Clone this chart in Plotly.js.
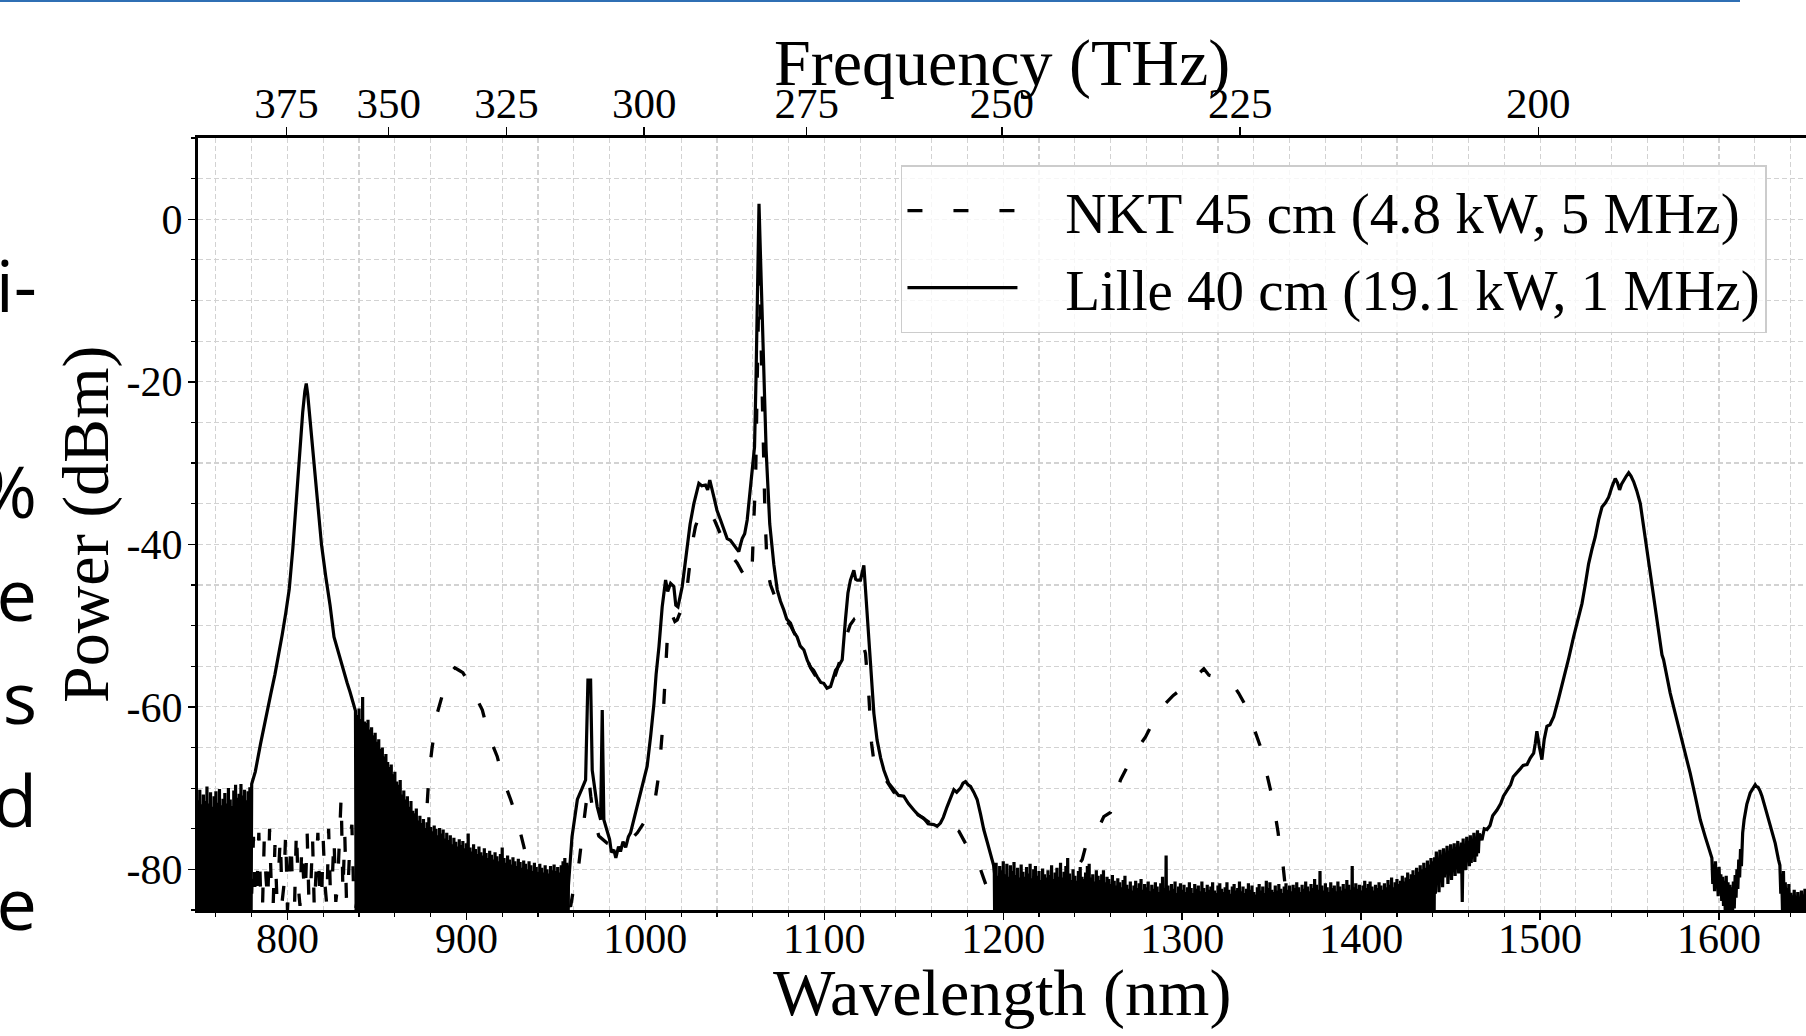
<!DOCTYPE html>
<html>
<head>
<meta charset="utf-8">
<script src="https://cdn.plot.ly/plotly-3.0.1.min.js"></script>
<style>
  html, body { margin:0; padding:0; width:1806px; height:1036px; overflow:hidden; background:#ffffff; }
  #chart { position:absolute; left:0; top:0; width:1900px; height:1036px; }
  #topline { position:absolute; left:0; top:0; width:1740px; height:2px; background:#2f6fb4; }
  .side { position:absolute; right:1769px; font-family:"Open Sans", "Noto Sans", sans-serif; font-size:72px; line-height:72px; color:#000; white-space:nowrap; text-align:right; }
</style>
</head>
<body>
<div id="chart"></div>
<div id="topline"></div>
<div class="side" style="top:248px;">i-</div>
<div class="side" style="top:454px;">%</div>
<div class="side" style="top:557px;">e</div>
<div class="side" style="top:660px;">s</div>
<div class="side" style="top:763px;">d</div>
<div class="side" style="top:866px;">e</div>
<script>
// ---------------- DATA ----------------
const seriesNames = ["NKT 45 cm (4.8 kW, 5 MHz)", "Lille 40 cm (19.1 kW, 1 MHz)"];
const axisTitles = { x: "Wavelength (nm)", x2: "Frequency (THz)", y: "Power (dBm)" };
const freqTicksTHz = [375, 350, 325, 300, 275, 250, 225, 200];
const yTickVals = [0, -20, -40, -60, -80];
const yTickText = ["0", "-20", "-40", "-60", "-80"];
const FLOOR_DB = -95;   // noise floor excursions below the visible range

// Lille: noise bands (1 nm sampling, top edge of the black noise, optional bottom edge)
const bandA_start = 750;
const bandA_top = [-71.5,-70.2,-72.0,-70.8,-71.6,-69.8,-71.9,-70.5,-72.3,-71.0,-70.4,-71.8,-70.1,-72.1,-71.3,-70.6,-71.9,-70.0,-71.4,-72.2,-70.3,-69.6,-71.2,-70.7,-69.5,-70.9,-70.2,-71.5,-70.4,-69.9];

const lilleWl1 = [780,782,785,788,790.6,793,795.3,797,799,801,803,805,807,808.5,809.7,810.5,811.3,812.3,813.7,815.2,817,819,821.4,823.8,826,828,829.7,831.5,833.4,835,836.5];
const lilleDb1 = [-69.5,-68,-64.5,-61.5,-58.5,-56,-53.4,-51.2,-48.5,-45.5,-40.5,-34,-27.5,-23.8,-21.2,-20.2,-21.5,-23.8,-27,-31,-35.5,-40,-44,-47.5,-51.4,-53,-54.2,-55.6,-57.1,-58.2,-59.2];

const bandB_start = 838;
const bandB_top = [-60.5,-61.0,-60.2,-61.5,-58.8,-61.8,-62.0,-61.6,-62.8,-62.5,
  -63.5,-63.2,-64.3,-64.0,-65.2,-65.0,-66.1,-65.8,-66.8,-67.4,
  -67.1,-68.3,-68.0,-69.2,-69.6,-69.0,-70.8,-70.3,-71.4,-71.0,
  -72.3,-71.6,-72.8,-73.1,-72.5,-74.0,-73.4,-74.3,-73.8,-74.9,
  -74.2,-73.6,-74.8,-75.3,-74.6,-75.0,-75.8,-74.9,-75.6,-75.1,
  -76.2,-75.5,-76.4,-75.8,-76.9,-76.1,-76.6,-77.2,-76.3,-77.0,
  -76.5,-77.4,-76.8,-75.6,-77.3,-77.8,-76.9,-77.5,-78.1,-77.2,
  -77.9,-78.3,-77.4,-78.0,-78.6,-77.7,-78.2,-78.8,-77.9,-78.4,
  -79.0,-78.1,-77.3,-78.6,-79.2,-78.3,-78.8,-79.4,-78.5,-79.0,
  -79.6,-78.7,-79.1,-79.8,-78.9,-79.3,-80.0,-79.0,-79.5,-80.2,
  -79.2,-79.7,-80.3,-79.3,-79.8,-80.4,-79.5,-80.0,-80.5,-79.6,
  -80.1,-79.4,-80.2,-79.7,-80.4,-79.5,-79.0,-78.6,-79.2];

const lilleWl2 = [957,959,962,964.7,966.6,967.9,969.4,970.3,973.1,975.0,975.9,976.8,978.7,980,981,982.4,983.5,985,986.1,987.5,989,990.5,991.7,994,997.3,1001.0,1003,1004.8,1006,1007.6,1009.4,1011.3,1012.5,1014.1,1015.9,1017,1018.2,1019.5,1020.6,1023.4,1025,1027.1,1029.9,1031.5,1033.6,1034.8,1036.0,1038.3,1040,1042.0,1045.7,1047.5,1049.5,1052.2,1053.2,1054.1,1055.5,1056.9,1058.5,1059.7,1061.0,1061.8,1062.5,1063.0,1063.5,1064.0,1064.5,1065.2,1066.5,1067.5,1069.5,1071.8,1073.7,1075.5,1077.4,1079,1081.1,1083,1084.8,1086.5,1088.6,1090.5,1092.3,1094,1096.0,1098,1099.7,1101.5,1103.5,1105,1106.3,1108,1110.0,1111.8,1113.2,1114.6,1116.5,1117.5,1118.4,1120.2,1121.2,1122.1,1123,1124.0,1125.8,1127.7,1129.5,1131.5,1133.3,1136,1138.8,1141.5,1144.4,1147,1150.0,1152.5,1155.6,1158,1161.2,1163,1164.9,1166.5,1168.6,1170.5,1172.4,1174,1176.1,1177.5,1178.9,1180.3,1181.7,1183.5,1185.4,1187.3,1189.1,1191,1192.9,1194.6];
const lilleDb2 = [-82,-76,-71.4,-70.0,-69.0,-56.7,-56.7,-67.8,-72.3,-73.9,-60.4,-73.9,-75.5,-76.3,-77.9,-77.6,-78.6,-77.2,-77.8,-76.6,-77.3,-76.0,-75.5,-73.5,-70.6,-67.3,-63.5,-59.6,-56,-52.6,-47.7,-44.4,-45.8,-44.8,-45.2,-47.5,-47.7,-46.3,-45.2,-40.3,-37.5,-35.0,-32.5,-32.8,-32.7,-33.3,-32.1,-34.2,-35.8,-37.0,-39.3,-39.5,-40.1,-40.9,-40.0,-39.3,-38.7,-37.0,-33.5,-30.9,-28,-20,-9,-3,1.9,-2,-6,-8.5,-20,-28.5,-37.5,-42.5,-45.6,-47.0,-48.1,-49.2,-49.7,-50.8,-51.4,-52.5,-53.0,-54.3,-55.1,-55.5,-56.3,-57.0,-57.1,-57.7,-57.5,-56.5,-55.5,-55.0,-54.2,-49.3,-46.0,-44.4,-43.2,-44.3,-44.4,-44.4,-43.5,-42.6,-45.5,-49.3,-54.6,-60.8,-64.1,-66.3,-67.8,-69.4,-70.2,-70.9,-71.0,-71.9,-72.7,-73.3,-73.7,-74.4,-74.5,-74.7,-74.3,-73.6,-72.3,-71.3,-70.2,-70.5,-70.0,-69.4,-69.2,-69.6,-69.8,-70.5,-71.4,-73.2,-75.1,-76.6,-78.0,-79.5];

const bandC_start = 1195;
const bandC_top = [-80.5,-79.2,-80.8,-79.6,-80.1,-79.0,-80.6,-79.3,-80.9,-79.5,
  -80.2,-79.1,-80.7,-79.8,-81.0,-79.4,-80.3,-80.9,-79.7,-80.5,
  -79.3,-81.1,-80.0,-79.6,-80.8,-80.2,-81.3,-79.9,-80.6,-81.0,
  -80.1,-80.7,-79.5,-81.2,-80.4,-79.8,-80.9,-79.2,-81.0,-80.3,
  -79.6,-78.6,-80.5,-81.3,-80.0,-80.8,-81.4,-80.2,-79.7,-80.9,
  -81.2,-80.4,-79.6,-79.3,-81.0,-80.6,-81.5,-80.1,-80.8,-81.3,
  -80.6,-80.1,-81.6,-80.9,-81.2,-81.8,-80.7,-81.4,-82.0,-81.1,
  -81.6,-82.2,-81.3,-80.8,-81.9,-82.4,-81.5,-82.6,-82.0,-81.4,
  -82.3,-81.7,-81.2,-82.5,-81.8,-82.2,-81.5,-82.7,-81.9,-82.4,
  -81.6,-82.1,-82.8,-81.7,-80.9,-82.3,-78.3,-82.0,-82.6,-81.8,
  -82.4,-81.5,-82.9,-82.1,-81.7,-82.5,-81.9,-82.8,-82.2,-81.6,
  -82.3,-82.9,-81.8,-82.4,-82.0,-82.7,-81.5,-82.3,-82.8,-81.9,
  -82.5,-82.1,-81.6,-82.6,-82.9,-82.0,-81.7,-82.4,-82.8,-82.2,
  -81.6,-82.5,-83.0,-82.1,-81.8,-82.6,-82.3,-81.5,-82.7,-82.1,
  -82.9,-82.4,-81.7,-82.5,-82.0,-82.8,-83.1,-82.2,-81.8,-82.6,
  -82.1,-82.9,-81.4,-82.3,-81.6,-82.5,-82.8,-82.0,-82.6,-81.8,
  -82.4,-82.9,-82.1,-81.7,-82.5,-82.0,-82.7,-81.9,-82.3,-81.6,
  -82.2,-82.8,-81.9,-82.4,-81.5,-82.1,-82.7,-81.8,-82.3,-81.2,
  -81.9,-82.5,-80.2,-82.0,-82.6,-81.7,-82.2,-82.8,-81.6,-82.3,
  -82.0,-82.7,-81.5,-82.1,-82.6,-81.8,-82.4,-81.3,-81.9,-82.5,
  -79.6,-82.2,-81.7,-82.4,-81.9,-82.6,-82.0,-81.4,-82.3,-81.8,
  -81.5,-82.1,-82.6,-81.9,-82.3,-81.6,-82.0,-82.5,-81.7,-82.2,
  -81.3,-81.9,-81.0,-82.2,-81.6,-81.2,-81.8,-81.4,-80.8,-81.5,
  -81.0,-80.4,-81.2,-80.6,-80.1,-80.7,-79.8,-80.3,-79.5,-80.0,
  -79.2,-79.8,-78.9,-79.4,-78.6,-79.0];

const bandD_start = 1441;
const bandD_top = [-78.5,-77.8,-78.6,-77.6,-78.2,-77.4,-78.0,-77.1,-77.8,-76.9,-77.5,-76.8,-77.4,-76.5,-77.6,-76.7,-76.2,-77.0,-76.0,-76.6,-75.8,-76.4,-75.5,-76.1,-75.2];
const bandD_bot = [-83.0,-81.5,-82.8,-80.9,-82.2,-81.0,-80.5,-81.8,-80.2,-81.3,-79.9,-80.8,-79.6,-80.5,-79.2,-84.0,-79.5,-80.1,-78.9,-79.6,-79.2,-78.5,-79.1,-78.4,-78.0];

const lilleWl3 = [1466,1467.5,1468.8,1470.3,1472,1473.5,1475.9,1478,1479.5,1481.5,1483.5,1485,1487.1,1489,1490.5,1492.7,1494.5,1496.4,1497.3,1498.2,1499.5,1501.0,1502.3,1503.8,1505.5,1507.6,1510.3,1513.1,1516,1518.7,1521,1523.4,1525.2,1527.1,1529,1530.8,1532.7,1534.6,1536.5,1538.3,1540.2,1542.0,1543.2,1544.4,1545.5,1546.7,1548.2,1549.5,1550.8,1552.3,1554,1556.0,1557.8,1559.7,1561.5,1563.4,1565.3,1567.2,1568.1,1569.0,1570.8,1572.7,1575.5,1578.3,1581,1583.9,1586.7,1589.5,1592.3,1595.1];
const lilleDb3 = [-75.6,-76.4,-75.0,-75.1,-74.6,-73.4,-72.7,-71.9,-71.0,-70.2,-69.6,-68.6,-68.0,-67.6,-67.2,-67.1,-66.3,-65.7,-64.5,-63.0,-64.8,-66.5,-64.0,-62.4,-62.2,-61.2,-59.0,-56.7,-54.0,-51.4,-49.5,-47.3,-45.0,-42.4,-40.6,-39.1,-37.0,-35.4,-34.9,-34.2,-32.9,-31.9,-32.4,-33.3,-32.6,-32.1,-31.6,-31.2,-31.6,-32.3,-33.4,-35.0,-37.8,-41.1,-44.0,-46.8,-49.8,-52.6,-53.6,-54.2,-56.3,-58.3,-60.8,-63.2,-65.7,-68.2,-71.0,-73.9,-76.0,-78.0];

const bandE_start = 1596;
const bandE_top = [-78.6,-79.4,-79.0,-80.1,-79.7,-80.6,-80.9,-81.4,-80.8,-81.6,-81.9,-82.2,-81.5,-80.7,-80.0,-78.8,-77.5];
const bandE_bot = [-81.8,-82.7,-82.0,-83.3,-82.8,-83.9,-84.5,-85.5,-86,-85.8,-86,-85.7,-84.8,-83.5,-82.4,-81.0,-79.6];

const lilleWl4 = [1613.2,1614,1615.5,1617.4,1619,1620.2,1620.8,1621.8,1623,1624.0,1625.8,1627.7,1629.5,1631.4,1633.2];
const lilleDb4 = [-75.5,-73.9,-72.0,-70.6,-70.0,-69.6,-69.8,-69.9,-70.4,-71.0,-72.4,-73.9,-75.2,-76.8,-78.8];

const bandF_start = 1634;
const bandF_top = [-79.5,-80.8,-80.2,-81.6,-82.3,-81.8,-82.9,-83.2,-82.5,-83.6,-82.8,-83.4,-82.6,-83.1,-82.4,-83.0];
const bandF_bot = [-83,-85.5,-86,-86,-86,-86,-86,-86,-86,-86,-86,-86,-86,-86,-86,-86];

// NKT: noise fragments (1 nm sampling) then the spectrum
const nktNoise_start = 780;
const nktNoise = [-83,-76,-84,-82,-75.5,-83,-85,-76.5,-81,-84,-75,-82.5,-84.5,-77,-83,-80.5,-76,-84,-82,-75.5,-85,-81.5,-76.5,-83.5,-84,-75,-82,-84.5,-77,-81,-83,-75.5,-84,-82.5,-76,-85,-81,-75.5,-83,-84,-76.5,-82,-84.5,-75,-83,-81.5,-76,-84,-82,-77,-71,-83,-75.5,-84,-81.5,-76,-74.5,-83,-85];
const nktWl = [842,855,865,873,876,878.1,879.1,880.9,883.7,886.5,888.5,891.2,893.5,895.8,898,900.5,903,905.1,908.9,911,913.5,917.2,920.6,924.7,928.4,932.1,935,940,948,954,958.2,960.1,962.9,965.7,967.5,968.5,969.5,971.2,974.0,978.7,984.3,989.9,995.5,1002.0,1005.7,1007.6,1009.4,1010.7,1012.2,1013.5,1015.0,1016.5,1017.8,1020.6,1023.4,1024.8,1026.2,1028,1029.9,1032.7,1034.5,1036.4,1038.8,1041.1,1045.7,1048.5,1051.3,1053.8,1056.0,1057.5,1058.8,1059.8,1060.6,1061.6,1062.5,1063.2,1063.6,1064.0,1064.8,1065.8,1066.8,1068.1,1070,1072,1074.6,1078.3,1081.1,1084.8,1088.6,1092.3,1096.0,1099.7,1103.5,1106.3,1108,1110.0,1112.8,1114.5,1116.5,1118.4,1120.5,1123.0,1124.9,1126.4,1128.6,1133.3,1138.8,1144.4,1150,1155.6,1161.2,1165,1170,1175.2,1178.9,1183.5,1187.3,1191.9,1195,1205,1215,1225,1235,1240,1244.1,1246.0,1249.7,1253,1256.2,1259.9,1262.5,1265.5,1268.3,1272,1275.7,1279.5,1283,1286.9,1290.6,1295,1299.0,1303.7,1308,1312.1,1314.9,1320,1325.1,1327.9,1331.5,1335.3,1337.8,1340.5,1343.7,1345.2,1348.9,1350.8,1353.6,1354.5,1356.2,1356.8,1358,1360,1400,1500,1649];
const nktDb = [-80,-79,-77,-75.5,-74,-71.85,-68.2,-64.9,-60.8,-58.7,-57.0,-55.7,-55.2,-55.5,-55.8,-56.7,-57.6,-58.7,-60.4,-62.2,-64.1,-66.1,-69.0,-71.4,-73.9,-77.2,-80,-81,-81.5,-83,-84.6,-82.1,-79.2,-74.0,-70.5,-69.0,-71.0,-73.8,-75.9,-76.8,-77.2,-76.8,-75.5,-73.3,-71.0,-68.2,-63.2,-57.5,-51.8,-49.5,-48.7,-49.5,-49.3,-47.7,-45.2,-42.5,-39.9,-37.8,-36.6,-35.6,-35.8,-36.2,-37.1,-38.3,-40.7,-41.5,-42.3,-43.3,-44.0,-44.5,-44.4,-42.0,-37.0,-32.1,-20,-10,-6.5,-9,-18,-28,-36,-43.2,-45.0,-46.2,-47.5,-49.3,-50.0,-51.6,-53.2,-55.2,-56.5,-57.3,-57.6,-56.0,-54.8,-53.4,-51.0,-49.9,-49.3,-50.1,-51.5,-53.4,-58.7,-64.5,-68.2,-68.6,-70.5,-71.3,-72.9,-73.8,-74.6,-74.8,-74.6,-75.3,-76.8,-78.0,-80.0,-82.9,-84.5,-84,-83,-82.5,-81,-80.2,-78.8,-77.2,-76.6,-75.0,-73.5,-73.0,-71.0,-69.0,-67.8,-66.2,-64.9,-63.7,-62.2,-60.8,-59.6,-58.6,-57.9,-57.1,-56.2,-55.3,-56.1,-56.4,-56.7,-57.1,-58.3,-59.8,-61.2,-62.9,-64.9,-66.3,-70.2,-71.6,-75.5,-77.2,-79.2,-80.7,-83,-86,-88,-88,-88];

// ---------------- BUILD TRACES ----------------
function addBand(xs, ys, start, top, bottom) {
  for (let i = 0; i < top.length; i++) {
    xs.push(start + i); ys.push(top[i]);
    xs.push(start + i + 0.5); ys.push(bottom ? bottom[i] : FLOOR_DB);
  }
}
function addCurve(xs, ys, wl, db) {
  for (let i = 0; i < wl.length; i++) { xs.push(wl[i]); ys.push(db[i]); }
}

const lx = [], ly = [];
addBand(lx, ly, bandA_start, bandA_top, null);
addCurve(lx, ly, lilleWl1, lilleDb1);
addBand(lx, ly, bandB_start, bandB_top, null);
addCurve(lx, ly, lilleWl2, lilleDb2);
addBand(lx, ly, bandC_start, bandC_top, null);
addBand(lx, ly, bandD_start, bandD_top, bandD_bot);
addCurve(lx, ly, lilleWl3, lilleDb3);
addBand(lx, ly, bandE_start, bandE_top, bandE_bot);
addCurve(lx, ly, lilleWl4, lilleDb4);
addBand(lx, ly, bandF_start, bandF_top, bandF_bot);

const nx = [], ny = [];
for (let i = 0; i < nktNoise.length; i++) { nx.push(nktNoise_start + i); ny.push(nktNoise[i]); }
addCurve(nx, ny, nktWl, nktDb);

const C_NM_THZ = 299792.458;
const X_RANGE = [750, 1700];
const GRID = { gridcolor: '#d2d2d2', gridwidth: 1.2, griddash: '5px,3px' };
const LEG_PAD = '&nbsp;&nbsp;&nbsp;';

const traces = [
  { x: nx, y: ny, type: 'scatter', mode: 'lines', name: LEG_PAD + seriesNames[0],
    line: { color: '#000', width: 3.3, dash: '15px,31px' }, hoverinfo: 'skip' },
  { x: lx, y: ly, type: 'scatter', mode: 'lines', name: LEG_PAD + seriesNames[1],
    line: { color: '#000', width: 3.2 }, hoverinfo: 'skip' },
  { x: [X_RANGE[0]], y: [null], xaxis: 'x2', yaxis: 'y', type: 'scatter', mode: 'lines',
    showlegend: false, hoverinfo: 'skip' }
];

const TITLE_FONT = { size: 66, color: '#000', family: '"Liberation Serif", "Times New Roman", serif' };

const layout = {
  width: 1900, height: 1036,
  margin: { l: 198, r: 2, t: 137.5, b: 125.7, pad: 0 },
  paper_bgcolor: '#ffffff', plot_bgcolor: '#ffffff',
  font: { family: '"Liberation Serif", "Times New Roman", serif', color: '#000', size: 42 },
  showlegend: true,
  legend: {
    x: 0.4135, y: 0.9644, xanchor: 'left', yanchor: 'top',
    bgcolor: 'rgba(255,255,255,0.8)', bordercolor: '#cccccc', borderwidth: 1.5,
    font: { size: 57, color: '#000' }, itemwidth: 110, traceorder: 'normal'
  },
  xaxis: Object.assign({
    range: X_RANGE, tickmode: 'linear', tick0: 800, dtick: 100,
    ticks: 'outside', ticklen: 7, tickwidth: 1.5, tickcolor: '#000',
    showline: true, linecolor: '#000', linewidth: 3, mirror: false,
    showgrid: true, zeroline: false, tickfont: { size: 42 }, ticklabelstandoff: -17,
    minor: Object.assign({ tickmode: 'linear', tick0: 800, dtick: 20, ticks: 'outside', ticklen: 4, tickwidth: 1.2, tickcolor: '#000', showgrid: true }, GRID)
  }, GRID),
  xaxis2: {
    overlaying: 'x', side: 'top', range: X_RANGE,
    tickmode: 'array', tickvals: freqTicksTHz.map(f => C_NM_THZ / f), ticktext: freqTicksTHz.map(String),
    ticks: 'outside', ticklen: 8, tickwidth: 1.5, tickcolor: '#000',
    showline: true, linecolor: '#000', linewidth: 3, showgrid: false, zeroline: false,
    tickfont: { size: 43 }, ticklabelstandoff: -8
  },
  yaxis: Object.assign({
    range: [-85, 10], tickmode: 'array', tickvals: yTickVals, ticktext: yTickText,
    ticks: 'outside', ticklen: 7, tickwidth: 1.5, tickcolor: '#000',
    showline: true, linecolor: '#000', linewidth: 3, mirror: true,
    showgrid: true, zeroline: false, tickfont: { size: 42 }, ticklabelstandoff: -3,
    minor: Object.assign({ tickmode: 'linear', tick0: 0, dtick: 5, ticks: 'outside', ticklen: 4, tickwidth: 1.2, tickcolor: '#000', showgrid: true }, GRID)
  }, GRID),
  annotations: [
    { text: axisTitles.x, xref: 'paper', yref: 'paper', x: (1002 - 198) / 1700, y: -(993 - 910.3) / 772.8,
      xanchor: 'center', yanchor: 'middle', showarrow: false, font: TITLE_FONT },
    { text: axisTitles.x2, xref: 'paper', yref: 'paper', x: (1002 - 198) / 1700, y: (910.3 - 62) / 772.8,
      xanchor: 'center', yanchor: 'middle', showarrow: false, font: TITLE_FONT },
    { text: axisTitles.y, xref: 'paper', yref: 'paper', x: (86 - 198) / 1700, y: 0.5, textangle: -90,
      xanchor: 'center', yanchor: 'middle', showarrow: false, font: TITLE_FONT }
  ]
};

Plotly.newPlot('chart', traces, layout, { staticPlot: true, displayModeBar: false });
</script>
</body>
</html>
